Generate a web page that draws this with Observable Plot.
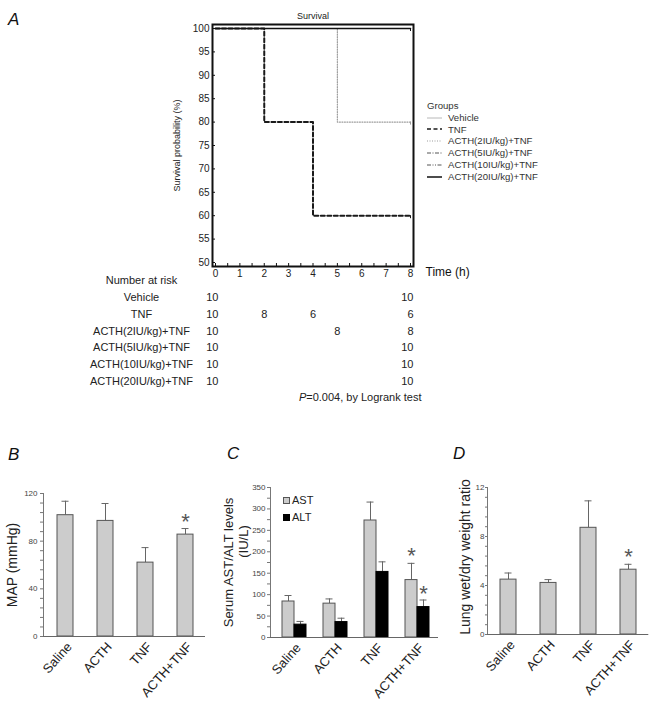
<!DOCTYPE html>
<html>
<head>
<meta charset="utf-8">
<script src="https://cdn.jsdelivr.net/npm/d3@7"></script>
<script src="https://cdn.jsdelivr.net/npm/@observablehq/plot@0.6"></script>
<style>
  html, body { margin: 0; padding: 0; background: #fff; }
  body { font-family: "Liberation Sans", Arial, Helvetica, sans-serif; color: #222; }
  #fig { position: relative; width: 655px; height: 708px; overflow: hidden; background: #fff; }
  .letter { position: absolute; font-style: italic; font-size: 17px; line-height: 17px; color: #111; }
  .legA { position: absolute; font-size: 9.6px; line-height: 11.8px; color: #333; }
  .legA .row { display: flex; align-items: center; height: 11.8px; white-space: nowrap; }
  .legA svg { margin-right: 6px; }
  .legC { position: absolute; font-size: 11px; line-height: 17px; color: #222; }
  .legC .row { display: flex; align-items: center; height: 17px; }
  .legC .sw { width: 5px; height: 5px; border: 1px solid #555; margin-right: 2px; }
</style>
</head>
<body>
<div id="fig"></div>
<script>
// ---------------- DATA ----------------
// Panel A: Kaplan-Meier survival
const groups = ["Vehicle", "TNF", "ACTH(2IU/kg)+TNF", "ACTH(5IU/kg)+TNF", "ACTH(10IU/kg)+TNF", "ACTH(20IU/kg)+TNF"];
const kmTimes = [[0, 8], [0, 2, 4, 8], [0, 5, 8], [0, 8], [0, 8], [0, 8]];
const kmSurv  = [[100, 100], [100, 80, 60, 60], [100, 80, 80], [100, 100], [100, 100], [100, 100]];
const riskTimes  = [[0, 8], [0, 2, 4, 8], [0, 5, 8], [0, 8], [0, 8], [0, 8]];
const riskCounts = [[10, 10], [10, 8, 6, 6], [10, 8, 8], [10, 10], [10, 10], [10, 10]];
const survTicks = [50, 55, 60, 65, 70, 75, 80, 85, 90, 95, 100];
const timeTicks = [0, 1, 2, 3, 4, 5, 6, 7, 8];
const pValueText = "=0.004, by Logrank test";

// Panels B-D
const treatments = ["Saline", "ACTH", "TNF", "ACTH+TNF"];
const mapMean = [101.8, 97.0, 62.0, 85.5];
const mapErr  = [11.7, 14.6, 12.6, 5.1];
const mapSig  = [false, false, false, true];
const mapTicks = [0, 40, 80, 120];

const astMean = [84, 79, 273, 134];
const astErr  = [14, 11, 43, 39];
const astSig  = [false, false, false, true];
const altMean = [30, 36, 153, 71];
const altErr  = [7.5, 9, 23.5, 16.5];
const altSig  = [false, false, false, true];
const enzymeTicks = [0, 50, 100, 150, 200, 250, 300, 350];

const lungMean = [4.48, 4.21, 8.71, 5.29];
const lungErr  = [0.54, 0.27, 2.20, 0.44];
const lungSig  = [false, false, false, true];
const lungTicks = [0, 4, 8, 12];

// ---------------- STYLES ----------------
const FONT = '"Liberation Sans", Arial, Helvetica, sans-serif';
const groupStyles = [
  {stroke: "#b8b8b8", width: 1,   dash: undefined},
  {stroke: "#1a1a1a", width: 2,   dash: "4,2.5"},
  {stroke: "#9c9c9c", width: 1.2, dash: "1,1.5"},
  {stroke: "#555555", width: 1,   dash: "4,1.5,1,1.5"},
  {stroke: "#555555", width: 1,   dash: "4,1.5,1,1.5,1,1.5"},
  {stroke: "#111111", width: 1.5, dash: undefined}
];
const BAR_FILL = "#cccccc", BAR_STROKE = "#555", ERR = "#666", TICKTXT = "#444";

const fig = document.getElementById("fig");
function place(el, left, top) {
  el.style.position = "absolute";
  el.style.left = left + "px";
  el.style.top = top + "px";
  fig.appendChild(el);
  return el;
}
const T = {lineAnchor: "middle", fill: "#222"};

// ---------------- PANEL A ----------------
const kmRows = groups.flatMap((g, i) => kmTimes[i].map((t, j) => ({group: g, idx: i, time: t, surv: kmSurv[i][j]})));
const riskRows = groups.flatMap((g, i) => riskTimes[i].map((t, j) => ({group: g, idx: i, time: t, n: riskCounts[i][j]})));
const drawOrder = [0, 3, 4, 2, 1, 5];
const curveMarks = drawOrder.flatMap(i => {
  const s = groupStyles[i];
  const d = kmRows.filter(r => r.idx === i);
  return [
    Plot.line(d, {x: "time", y: "surv", curve: "step-after", stroke: s.stroke, strokeWidth: s.width, strokeDasharray: s.dash}),
    Plot.ruleX(d.slice(-1), {x: "time", y1: "surv", y2: "surv", insetBottom: -3, stroke: s.stroke, strokeWidth: 1})
  ];
});
const rowDy = groups.map((g, i) => 31 + 16.8 * i);
const tableMarks = groups.flatMap((g, i) => [
  Plot.text([g], {...T, frameAnchor: "bottom-left", dx: -71, dy: rowDy[i], textAnchor: "middle", fontSize: 11}),
  Plot.text(riskRows.filter(r => r.idx === i), {...T, x: "time", text: "n", frameAnchor: "bottom", dy: rowDy[i], dx: 3, textAnchor: "end", fontSize: 11})
]);
const ctx = document.createElement("canvas").getContext("2d");
ctx.font = "11px " + FONT;
const restW = ctx.measureText(pValueText).width;

const plotA = Plot.plot({
  width: 655, height: 410,
  marginLeft: 212, marginRight: 242, marginTop: 24, marginBottom: 144,
  x: {domain: [0, 8], insetLeft: 3, insetRight: 3},
  y: {domain: [50, 100], insetTop: 4, insetBottom: 4},
  style: {fontFamily: FONT, fontSize: "10px", color: "#222", background: "transparent", overflow: "visible"},
  marks: [
    ...curveMarks,
    Plot.axisY({ticks: survTicks, tickSize: -3, fill: "none", stroke: "#111", label: null}),
    Plot.axisY({ticks: survTicks, tickSize: 0, tickPadding: 3, label: null, fontSize: 10, fill: "#222"}),
    Plot.axisX({ticks: d3.range(0, 8.01, 0.5), tickSize: -3, fill: "none", stroke: "#111", label: null}),
    Plot.axisX({ticks: timeTicks, tickSize: 0, tickPadding: 3, label: null, fontSize: 10, fill: "#222"}),
    Plot.frame({stroke: "#111", strokeWidth: 2}),
    Plot.text(["Survival"], {...T, frameAnchor: "top", dy: -8, textAnchor: "middle", fontSize: 9}),
    Plot.text(["Survival probability (%)"], {...T, frameAnchor: "left", dx: -35, rotate: -90, textAnchor: "middle", fontSize: 9}),
    Plot.text(["Time (h)"], {...T, frameAnchor: "bottom-right", dx: 12, dy: 6, textAnchor: "start", fontSize: 12, fill: "#111"}),
    Plot.text(["Number at risk"], {...T, frameAnchor: "bottom-left", dx: -71, dy: 14, textAnchor: "middle", fontSize: 11}),
    ...tableMarks,
    Plot.text([pValueText], {...T, frameAnchor: "bottom-right", dx: 8, dy: 131, textAnchor: "end", fontSize: 11}),
    Plot.text(["P"], {...T, frameAnchor: "bottom-right", dx: 8 - restW, dy: 131, textAnchor: "end", fontSize: 11, fontStyle: "italic"})
  ]
});
place(plotA, 0, 0);

// Legend for A
const legA = document.createElement("div");
legA.className = "legA";
legA.innerHTML = `<div class="row">Groups</div>` + groups.map((g, i) => {
  const s = groupStyles[i];
  return `<div class="row"><svg width="15" height="6"><line x1="0" x2="15" y1="3" y2="3" stroke="${s.stroke}" stroke-width="${Math.min(s.width, 1.5)}" ${s.dash ? `stroke-dasharray="${s.dash}"` : ""}/></svg>${g}</div>`;
}).join("");
place(legA, 427, 100);

// ---------------- BAR PANELS ----------------
function axisMarks(minorTicks, majorTicks, minorSize, padding) {
  return [
    Plot.frame({anchor: "left", stroke: "#777", strokeWidth: 1}),
    Plot.axisY({ticks: minorTicks, tickSize: minorSize, fill: "none", stroke: "#777", label: null}),
    Plot.axisY({ticks: majorTicks, tickSize: 0, tickPadding: padding, label: null, fontSize: 8, fill: TICKTXT}),
    Plot.ruleY([0], {stroke: "#666", strokeWidth: 1}),
    Plot.axisX({tickRotate: -48, tickSize: 0, tickPadding: 8, dx: 4, label: null, fontSize: 13, fill: "#222"})
  ];
}

function singleBars(cfg) {
  const rows = treatments.map((t, i) => ({t, v: cfg.mean[i], hi: cfg.mean[i] + cfg.err[i], sig: cfg.sig[i]}));
  return Plot.plot({
    width: cfg.width, height: 238,
    marginLeft: cfg.marginLeft, marginRight: cfg.marginRight, marginTop: cfg.marginTop, marginBottom: cfg.marginBottom,
    x: {domain: treatments, paddingInner: 0.6, paddingOuter: 0.3, insetLeft: cfg.insetLeft},
    y: {domain: cfg.domainY},
    style: {fontFamily: FONT, fontSize: "8px", color: "#222", background: "transparent", overflow: "visible"},
    marks: [
      Plot.ruleX(rows, {x: "t", y1: "v", y2: "hi", stroke: ERR, strokeWidth: 1}),
      Plot.tickY(rows, {x: "t", y: "hi", insetLeft: 4.5, insetRight: 4.5, stroke: ERR, strokeWidth: 1}),
      Plot.barY(rows, {x: "t", y: "v", fill: BAR_FILL, stroke: BAR_STROKE, strokeWidth: 1}),
      Plot.text(rows.filter(d => d.sig), {x: "t", y: "hi", text: () => "*", dy: -7, fontSize: 22, fill: "#555"}),
      ...axisMarks(cfg.minor, cfg.major, cfg.minorSize, cfg.padding),
      Plot.text([cfg.label], {...T, frameAnchor: "left", dx: cfg.labelDx, dy: cfg.labelDy || 0, rotate: -90, textAnchor: "middle", fontSize: 14})
    ]
  });
}

// Panel B
const plotB = singleBars({
  mean: mapMean, err: mapErr, sig: mapSig, domainY: [0, 120],
  minor: d3.range(0, 121, 8), major: mapTicks, minorSize: 3, padding: 6,
  width: 215, marginLeft: 43, marginRight: 10, marginTop: 23, marginBottom: 72, insetLeft: 2,
  label: "MAP (mmHg)", labelDx: -31
});
place(plotB, 0, 470);

// Panel C
const enzRows = treatments.map((t, i) => ({
  t, ast: astMean[i], astHi: astMean[i] + astErr[i], astSig: astSig[i],
  alt: altMean[i], altHi: altMean[i] + altErr[i], altSig: altSig[i]
}));
const plotC = Plot.plot({
  width: 225, height: 238,
  marginLeft: 55, marginRight: 2, marginTop: 17, marginBottom: 71,
  x: {domain: treatments, paddingInner: 0.417, paddingOuter: 0.2085, insetLeft: 3},
  y: {domain: [0, 350]},
  style: {fontFamily: FONT, fontSize: "8px", color: "#222", background: "transparent", overflow: "visible"},
  marks: [
    Plot.ruleX(enzRows, {x: "t", y1: "ast", y2: "astHi", dx: -6, stroke: ERR}),
    Plot.tickY(enzRows, {x: "t", y: "astHi", insetLeft: 2.5, insetRight: 14.5, stroke: ERR}),
    Plot.ruleX(enzRows, {x: "t", y1: "alt", y2: "altHi", dx: 6, stroke: ERR}),
    Plot.tickY(enzRows, {x: "t", y: "altHi", insetLeft: 14.5, insetRight: 2.5, stroke: ERR}),
    Plot.barY(enzRows, {x: "t", y: "ast", insetRight: 12, fill: BAR_FILL, stroke: BAR_STROKE, strokeWidth: 1}),
    Plot.barY(enzRows, {x: "t", y: "alt", insetLeft: 12, fill: "#000", stroke: "#000", strokeWidth: 1}),
    Plot.text(enzRows.filter(d => d.astSig), {x: "t", y: "astHi", dx: -6, text: () => "*", dy: -7, fontSize: 22, fill: "#555"}),
    Plot.text(enzRows.filter(d => d.altSig), {x: "t", y: "altHi", dx: 6, text: () => "*", dy: -6, fontSize: 22, fill: "#555"}),
    ...axisMarks(d3.range(0, 351, 25), enzymeTicks, 3, 5),
    Plot.text(["Serum AST/ALT levels"], {...T, frameAnchor: "left", dx: -42, rotate: -90, textAnchor: "middle", fontSize: 13}),
    Plot.text(["(IU/L)"], {...T, frameAnchor: "left", dx: -27, dy: -21, rotate: -90, textAnchor: "middle", fontSize: 13})
  ]
});
place(plotC, 215, 470);

// Legend for C
const legC = document.createElement("div");
legC.className = "legC";
legC.innerHTML = `<div class="row"><div class="sw" style="background:${BAR_FILL}"></div>AST</div>` +
                 `<div class="row"><div class="sw" style="background:#000;border-color:#000"></div>ALT</div>`;
place(legC, 283, 492);

// Panel D
const plotD = singleBars({
  mean: lungMean, err: lungErr, sig: lungSig, domainY: [0, 12],
  minor: d3.range(0, 12.01, 0.8), major: lungTicks, minorSize: 2, padding: 3,
  width: 215, marginLeft: 47, marginRight: 6.7, marginTop: 17, marginBottom: 74, insetLeft: 1.3,
  label: "Lung wet/dry weight ratio", labelDx: -22, labelDy: -4
});
place(plotD, 440, 470);

// Panel letters
[["A", 8, 10.6], ["B", 8, 445.6], ["C", 227, 444.6], ["D", 453, 444.6]].forEach(([t, l, tp]) => {
  const d = document.createElement("div");
  d.className = "letter";
  d.textContent = t;
  place(d, l, tp);
});
</script>
</body>
</html>
